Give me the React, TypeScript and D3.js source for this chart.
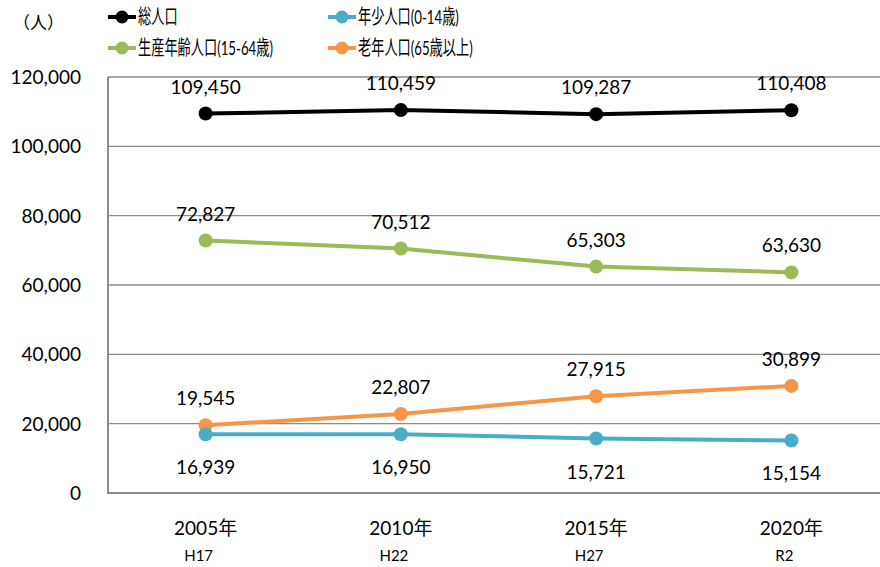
import { useEffect, useRef } from "react";
import * as d3 from "d3";

const years = ["2005年", "2010年", "2015年", "2020年"];
const eras = ["H17", "H22", "H27", "R2"];
const yTicks = [0, 20000, 40000, 60000, 80000, 100000, 120000];

const seriesNames = ["総人口", "年少人口(0-14歳)", "生産年齢人口(15-64歳)", "老年人口(65歳以上)"];
const seriesColors = ["#000000", "#4bacc6", "#9bbb59", "#f79646"];
const total = [109450, 110459, 109287, 110408];
const young = [16939, 16950, 15721, 15154];
const working = [72827, 70512, 65303, 63630];
const elderly = [19545, 22807, 27915, 30899];
// label below the point only for the young series
const labelBelow = [false, true, false, false];

const FONT = "Lato, 'Noto Sans CJK JP', sans-serif";

export default function App() {
  const svgRef = useRef<SVGSVGElement | null>(null);

  useEffect(() => {
    if (!svgRef.current) return;
    const width = 880;
    const height = 567;
    const svg = d3.select(svgRef.current);
    svg.selectAll("*").remove();
    svg.attr("width", width).attr("height", height).style("font-family", FONT);

    const x = d3.scaleBand<string>().domain(years).range([108, 889]);
    const y = d3.scaleLinear().domain([0, 120000]).range([493, 77]);
    const cx = (d: string) => (x(d) ?? 0) + x.bandwidth() / 2;

    // gridlines
    svg
      .append("g")
      .selectAll("line")
      .data(yTicks.filter((t) => t > 0))
      .join("line")
      .attr("x1", 108)
      .attr("x2", 889)
      .attr("y1", (d) => y(d))
      .attr("y2", (d) => y(d))
      .attr("stroke", "#8c8c8c")
      .attr("stroke-width", 1.3);

    // axes lines
    svg.append("line").attr("x1", 108).attr("x2", 108).attr("y1", y(120000)).attr("y2", y(0))
      .attr("stroke", "#8c8c8c").attr("stroke-width", 2);
    svg.append("line").attr("x1", 107).attr("x2", 889).attr("y1", y(0)).attr("y2", y(0))
      .attr("stroke", "#8c8c8c").attr("stroke-width", 2);

    // y tick labels
    const fmt = d3.format(",");
    svg
      .append("g")
      .selectAll("text")
      .data(yTicks)
      .join("text")
      .attr("x", 81)
      .attr("y", (d) => y(d) + 7)
      .attr("text-anchor", "end")
      .attr("font-size", 19)
      .attr("fill", "#000")
      .text((d) => fmt(d));

    // x labels
    svg
      .append("g")
      .selectAll("text")
      .data(years)
      .join("text")
      .attr("x", (d) => cx(d))
      .attr("y", 535)
      .attr("text-anchor", "middle")
      .attr("font-size", 19)
      .text((d) => d);
    svg
      .append("g")
      .selectAll("text")
      .data(years)
      .join("text")
      .attr("x", (d) => cx(d) - 7)
      .attr("y", 561)
      .attr("text-anchor", "middle")
      .attr("font-size", 15)
      .text((_d, i) => eras[i]);

    svg.append("text").attr("x", 13).attr("y", 29).attr("font-size", 17).text("（人）");

    const allSeries = [total, young, working, elderly];
    const line = d3
      .line<number>()
      .x((_d, i) => cx(years[i]))
      .y((d) => y(d));

    // draw in order: working, elderly, young, total
    const order = [2, 3, 1, 0];
    order.forEach((si) => {
      const vals = allSeries[si];
      const g = svg.append("g");
      g.append("path")
        .attr("d", line(vals))
        .attr("fill", "none")
        .attr("stroke", seriesColors[si])
        .attr("stroke-width", 4)
        .attr("stroke-linejoin", "round");
      g.selectAll("circle")
        .data(vals)
        .join("circle")
        .attr("cx", (_d, i) => cx(years[i]))
        .attr("cy", (d) => y(d))
        .attr("r", 7)
        .attr("fill", seriesColors[si]);
    });

    order.forEach((si) => {
      const vals = allSeries[si];
      svg
        .append("g")
        .selectAll("text")
        .data(vals)
        .join("text")
        .attr("x", (_d, i) => cx(years[i]))
        .attr("y", (d) => y(d) + (labelBelow[si] ? 40 : -20))
        .attr("text-anchor", "middle")
        .attr("font-size", 19)
        .attr("fill", "#000")
        .text((d) => fmt(d));
    });

    // legend
    const legendPos = [
      [108, 17],
      [328, 17],
      [108, 48],
      [328, 48],
    ];
    const legend = svg.append("g");
    seriesNames.forEach((name, i) => {
      const [lx, ly] = legendPos[i];
      const item = legend.append("g");
      item.append("line").attr("x1", lx).attr("x2", lx + 28).attr("y1", ly).attr("y2", ly)
        .attr("stroke", seriesColors[i]).attr("stroke-width", 4);
      item.append("circle").attr("cx", lx + 14).attr("cy", ly).attr("r", 6.5).attr("fill", seriesColors[i]);
      // the legend font is condensed in the source
      item.append("text")
        .attr("transform", `translate(${lx + 30},${ly + 7}) scale(0.66,1)`)
        .attr("font-size", 20)
        .attr("fill", "#000")
        .text(name);
    });
  }, []);

  return <svg ref={svgRef} style={{ position: "absolute", left: 0, top: 0 }}></svg>;
}
